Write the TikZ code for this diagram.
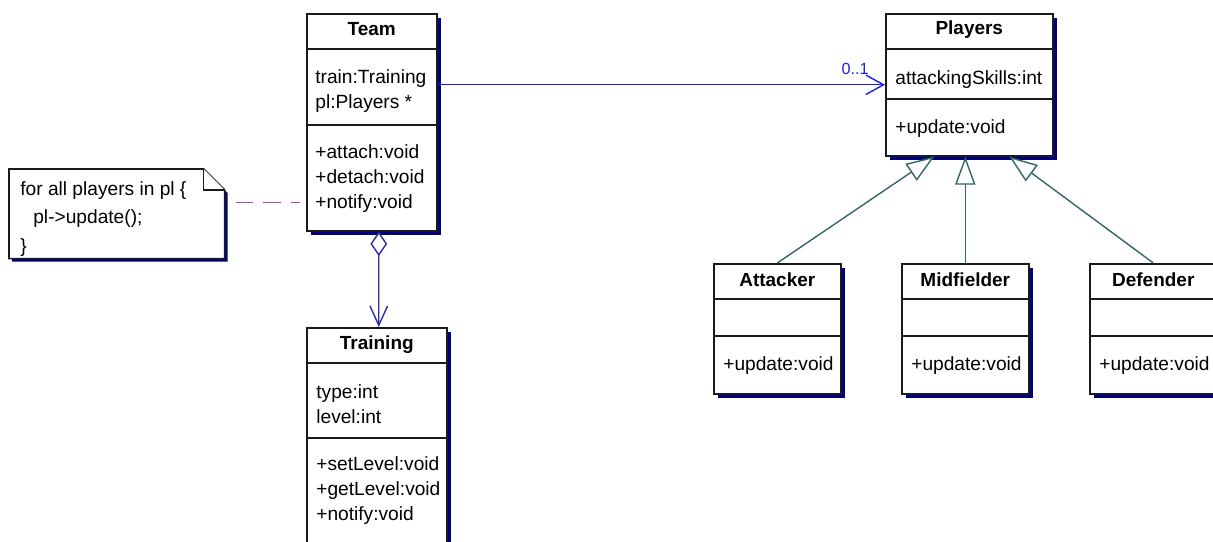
\documentclass[tikz,border=0pt]{standalone}
\usepackage{fontspec}
\setmainfont{Liberation Sans}
\usetikzlibrary{arrows.meta, positioning, calc, shadows}
\definecolor{shadownavy}{HTML}{000080}
\definecolor{boxline}{HTML}{1A1A1A}
\definecolor{assocblue}{HTML}{1C1CEE}
\definecolor{aggrblue}{HTML}{2C2CA6}
\definecolor{genteal}{HTML}{336666}
\definecolor{notepurple}{HTML}{A848A8}

\tikzset{
  classbox/.style={draw=boxline, line width=0.9pt, fill=white, inner sep=0pt, anchor=north west,
    drop shadow={fill=shadownavy, opacity=1, shadow xshift=2.2pt, shadow yshift=-2.2pt}},
  classline/.style={draw=boxline, line width=0.9pt},
  classname/.style={font=\fontsize{10.8}{13}\selectfont\bfseries, inner sep=0pt},
  members/.style={font=\fontsize{10.9}{14.2}\selectfont, align=left, inner sep=0pt, anchor=west},
  notebox/.style={draw=boxline, line width=0.9pt, fill=white},
  notetext/.style={font=\fontsize{10.9}{16.2}\selectfont, align=left, inner sep=0pt, anchor=west},
  assoc/.style={draw=assocblue, line width=0.8pt, -{Straight Barb[length=10pt, width=11pt]}},
  aggr/.style={draw=aggrblue, line width=0.8pt,
    {Diamond[open, fill=white, length=14pt, width=9.5pt]}-{Straight Barb[length=11pt, width=10pt]}},
  inherit/.style={draw=genteal, line width=0.8pt, -{Triangle[open, fill=white, length=16pt, width=11.5pt]}},
  notelink/.style={draw=notepurple, line width=0.9pt, dash pattern=on 10pt off 5.7pt},
}

\begin{document}
\begin{tikzpicture}[x=0.02cm, y=-0.02cm]
    \useasboundingbox (0,0) rectangle (1213,541);
    \clip (0,0) rectangle (1213,541);

    % Team
    \node[classbox, minimum width=2.6cm, minimum height=4.34cm] (team) at (306,13) {};
    \draw[classline] ($(team.north west)+(0,36)$) -- ($(team.north east)+(0,36)$);
    \draw[classline] ($(team.north west)+(0,112)$) -- ($(team.north east)+(0,112)$);
    \node[classname] (team-name) at ($(team.north)+(0,16)$) {Team};
    \node[members] (team-attr) at ($(team.north west)+(9,78.5)$) {train:Training\\pl:Players *};
    \node[members] (team-ops) at ($(team.north west)+(9,165.5)$) {+attach:void\\+detach:void\\+notify:void};

    % Training
    \node[classbox, minimum width=2.8cm, minimum height=4.8cm] (training) at (306,327) {};
    \draw[classline] ($(training.north west)+(0,36)$) -- ($(training.north east)+(0,36)$);
    \draw[classline] ($(training.north west)+(0,111)$) -- ($(training.north east)+(0,111)$);
    \node[classname] (training-name) at ($(training.north)+(0,17.5)$) {Training};
    \node[members] (training-attr) at ($(training.north west)+(10,77)$) {type:int\\level:int};
    \node[members] (training-ops) at ($(training.north west)+(10,163.5)$) {+setLevel:void\\+getLevel:void\\+notify:void};

    % Players
    \node[classbox, minimum width=3.34cm, minimum height=2.84cm] (players) at (885,13) {};
    \draw[classline] ($(players.north west)+(0,36)$) -- ($(players.north east)+(0,36)$);
    \draw[classline] ($(players.north west)+(0,86)$) -- ($(players.north east)+(0,86)$);
    \node[classname] (players-name) at ($(players.north)+(0,17)$) {Players};
    \node[members] (players-attr) at ($(players.north west)+(10,66.5)$) {attackingSkills:int};
    \node[members] (players-ops) at ($(players.north west)+(10,116)$) {+update:void};

    % Subclasses
    \foreach \cls/\title/\xpos in {attacker/Attacker/713, midfielder/Midfielder/901, defender/Defender/1089} {
        \node[classbox, minimum width=2.54cm, minimum height=2.6cm] (\cls) at (\xpos,263) {};
        \draw[classline] ($(\cls.north west)+(0,36)$) -- ($(\cls.north east)+(0,36)$);
        \draw[classline] ($(\cls.north west)+(0,73)$) -- ($(\cls.north east)+(0,73)$);
        \node[classname] (\cls-name) at ($(\cls.north)+(0,17)$) {\title};
        \node[members] (\cls-ops) at ($(\cls.north west)+(10,102.5)$) {+update:void};
    }

    % Note
    \node[minimum width=4.3cm, minimum height=1.78cm, inner sep=0pt, anchor=north west] (note) at (9,169) {};
    \coordinate (fold) at ($(note.north east)+(-21,0)$);
    \coordinate (foldb) at ($(note.north east)+(0,21)$);
    \fill[shadownavy] ($(foldb)+(3,3)$) -- ($(note.south east)+(3,3)$) -- ($(note.south west)+(3,3)$)
        -- ($(note.north west)+(3,3)$) -- ($(fold)+(3,3)$) -- cycle;
    \filldraw[notebox] (note.north west) -- (fold) -- (foldb) -- (note.south east) -- (note.south west) -- cycle;
    \draw[notebox] (fold) -- (fold |- foldb) -- (foldb);
    \node[notetext] (note-text) at ($(note.west)+(11,5)$) {for all players in pl \{\\\hspace*{7.4pt}pl->update();\\\}};

    % Connectors
    \draw[assoc] (players.west -| team.east) -- (players.west);
    \node[font=\fontsize{9.2}{11}\selectfont, text=assocblue, inner sep=0pt] (mult) at ($(players.west)+(-30,-16)$) {0..1};
    \draw[aggr] ($(team.south)+(7,0)$) -- ($(training.north)+(2,0)$);
    \draw[inherit] (attacker.north) -- ($(players.south)+(-35,0)$);
    \draw[inherit] (midfielder.north) -- (midfielder.north |- players.south);
    \draw[inherit] (defender.north) -- ($(players.south)+(40,0)$);
    \coordinate (link) at ($(note.east)+(11,-11.5)$);
    \draw[notelink, shorten >=3.4pt] (link) -- (link -| team.west);
\end{tikzpicture}
\end{document}
